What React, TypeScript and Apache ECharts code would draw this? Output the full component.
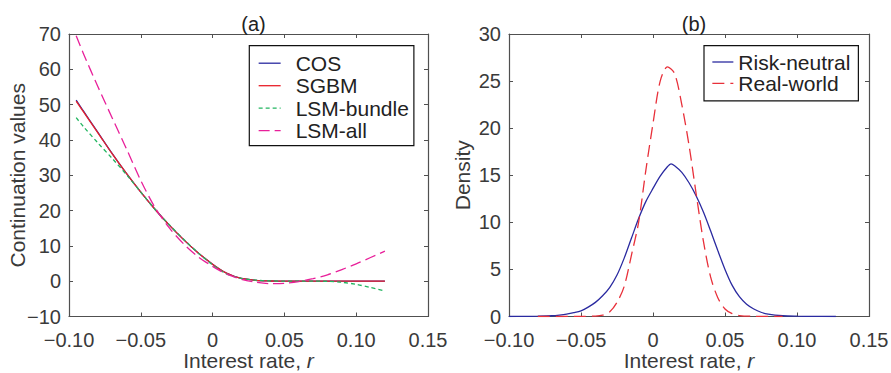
import React, { useEffect, useRef } from "react";
import * as echarts from "echarts";

// Panel (a): continuation values
const rateA = [-0.095, -0.09, -0.08, -0.07, -0.06, -0.05, -0.04, -0.03, -0.02, -0.01, 0, 0.005, 0.01, 0.015, 0.02, 0.03, 0.04, 0.05, 0.06, 0.07, 0.08, 0.09, 0.1, 0.11, 0.12];
const cosVals = [51.3, 48.2, 42.2, 36.2, 30.5, 25.2, 20.3, 15.8, 11.7, 8.0, 4.8, 3.4, 2.2, 1.4, 0.8, 0.25, 0.06, 0.01, 0, 0, 0, 0, 0, 0, 0];
const sgbmVals = [51.0, 48.0, 42.1, 36.1, 30.5, 25.2, 20.3, 15.8, 11.7, 8.0, 4.8, 3.4, 2.2, 1.4, 0.8, 0.25, 0.06, 0.01, 0, 0, 0, 0, 0, 0, 0];
const lsmBundleVals = [46.3, 43.8, 39.2, 34.8, 30.2, 25.2, 20.3, 15.9, 11.8, 8.0, 4.6, 3.2, 2.0, 1.3, 0.8, 0.3, 0.1, 0.0, 0, 0, -0.05, -0.3, -0.9, -1.8, -2.8];
const lsmAllVals = [69.5, 64.5, 55.2, 46.3, 37.5, 28.5, 20.8, 15.0, 10.5, 6.9, 4.2, 3.0, 2.0, 1.2, 0.5, -0.3, -0.7, -0.6, -0.1, 0.7, 1.8, 3.3, 4.9, 6.7, 8.5];

// Panel (b): densities
const rateRN = [-0.1, -0.09, -0.08, -0.07, -0.065, -0.06, -0.055, -0.05, -0.045, -0.04, -0.035, -0.03, -0.025, -0.02, -0.015, -0.01, -0.005, 0, 0.005, 0.01, 0.0125, 0.015, 0.02, 0.025, 0.03, 0.035, 0.04, 0.045, 0.05, 0.055, 0.06, 0.065, 0.07, 0.075, 0.08, 0.09, 0.1, 0.11, 0.127];
const riskNeutralVals = [0, 0.01, 0.03, 0.08, 0.15, 0.25, 0.4, 0.6, 1.0, 1.5, 2.2, 3.1, 4.4, 6.2, 8.3, 10.4, 12.2, 13.6, 14.9, 15.9, 16.2, 16.0, 15.3, 14.2, 12.8, 11.1, 9.1, 7.0, 5.0, 3.3, 2.1, 1.3, 0.8, 0.45, 0.25, 0.08, 0.03, 0.01, 0];
const rateRW = [-0.08, -0.05, -0.04, -0.035, -0.03, -0.025, -0.02, -0.015, -0.01, -0.005, 0, 0.005, 0.01, 0.015, 0.02, 0.025, 0.03, 0.035, 0.04, 0.045, 0.05, 0.055, 0.06, 0.07, 0.09];
const realWorldVals = [0, 0.01, 0.05, 0.15, 0.5, 1.5, 3.2, 6.5, 10.0, 15.5, 20.5, 25.0, 26.5, 25.8, 22.5, 18.2, 13.0, 8.0, 4.2, 2.0, 0.8, 0.3, 0.1, 0.02, 0];

const legendA = ["COS", "SGBM", "LSM-bundle", "LSM-all"];
const legendB = ["Risk-neutral", "Real-world"];

const FONT = "Liberation Sans, Arial, Helvetica, sans-serif";
const AXIS_COLOR = "#505050";
const TEXT_COLOR = "#3a3a3a";

const zip = (xs: number[], ys: number[]) => xs.map((x, i) => [x, ys[i]]);

const fmtX = (v: number) => (Math.abs(v) < 1e-9 ? "0" : v.toFixed(2).replace("-", "\u2212"));
const fmtY = (v: number) => String(Math.round(v)).replace("-", "\u2212");

function xAxes(grid: number) {
  const base = {
    gridIndex: grid,
    type: "value",
    min: -0.1,
    max: 0.15,
    interval: 0.05,
    splitLine: { show: false },
    axisLine: { show: true, onZero: false, lineStyle: { color: AXIS_COLOR, width: 1.2 } },
    axisTick: { show: true, inside: true, length: 4, lineStyle: { color: AXIS_COLOR } },
  };
  return [
    {
      ...base,
      position: "bottom",
      axisLabel: { show: true, formatter: fmtX, fontSize: 20, color: TEXT_COLOR, fontFamily: FONT, margin: 13 },
      name: "{a|Interest rate, }{i|r}",
      nameLocation: "middle",
      nameGap: 33,
      nameMoveOverlap: false,
      nameTextStyle: {
        rich: {
          a: { fontSize: 21, fontFamily: FONT, color: TEXT_COLOR },
          i: { fontSize: 21, fontFamily: FONT, color: TEXT_COLOR, fontStyle: "italic" },
        },
      },
    },
    { ...base, position: "top", axisLabel: { show: false } },
  ];
}

function yAxes(grid: number, min: number, max: number, interval: number, name: string, gap: number) {
  const base = {
    gridIndex: grid,
    type: "value",
    min,
    max,
    interval,
    splitLine: { show: false },
    axisLine: { show: true, onZero: false, lineStyle: { color: AXIS_COLOR, width: 1.2 } },
    axisTick: { show: true, inside: true, length: 4, lineStyle: { color: AXIS_COLOR } },
  };
  return [
    {
      ...base,
      position: "left",
      axisLabel: { show: true, formatter: fmtY, fontSize: 20, color: TEXT_COLOR, fontFamily: FONT, margin: 8 },
      name,
      nameLocation: "middle",
      nameGap: gap,
      nameMoveOverlap: false,
      nameTextStyle: { fontSize: 21, fontFamily: FONT, color: TEXT_COLOR },
    },
    { ...base, position: "right", axisLabel: { show: false } },
  ];
}

function line(name: string, xs: number[], ys: number[], color: string, xi: number, yi: number, type: any, width = 1.3) {
  return {
    name,
    type: "line",
    xAxisIndex: xi,
    yAxisIndex: yi,
    data: zip(xs, ys),
    smooth: 0.3,
    symbol: "none",
    showSymbol: false,
    lineStyle: { color, width, type },
    itemStyle: { color },
  };
}

const legendCommon = {
  orient: "vertical",
  itemHeight: 14,
  borderColor: "#111",
  borderWidth: 1.2,
  backgroundColor: "#fff",
  itemStyle: { opacity: 0 },
  lineStyle: { type: "inherit", width: 1.3 },
};

export default function App() {
  const ref = useRef<HTMLDivElement>(null);
  useEffect(() => {
    if (!ref.current) return;
    const chart = echarts.init(ref.current, null, { renderer: "svg" });
    chart.setOption({
      animation: false,
      backgroundColor: "#ffffff",
      title: [
        { text: "(a)", left: 248.5, top: 9, textAlign: "center", textStyle: { fontSize: 20, fontWeight: "normal", fontFamily: FONT, color: "#222" } },
        { text: "(b)", left: 689, top: 9, textAlign: "center", textStyle: { fontSize: 20, fontWeight: "normal", fontFamily: FONT, color: "#222" } },
      ],
      grid: [
        { left: 69, top: 34, width: 359, height: 282.5, show: false, containLabel: false, outerBoundsMode: "none" },
        { left: 509, top: 34, width: 360, height: 282.5, show: false, containLabel: false, outerBoundsMode: "none" },
      ],
      xAxis: [...xAxes(0), ...xAxes(1)],
      yAxis: [
        ...yAxes(0, -10, 70, 10, "Continuation values", 41),
        ...yAxes(1, 0, 30, 5, "Density", 36),
      ],
      legend: [
        {
          ...legendCommon,
          data: legendA,
          left: 249.3,
          top: 45.7,
          itemWidth: 22,
          itemGap: 1.5,
          padding: [7, 5, 4.5, 8.7],
          textStyle: { fontSize: 21, lineHeight: 21, fontFamily: FONT, color: "#222", padding: [0, 0, 0, 10] },
        },
        {
          ...legendCommon,
          data: legendB,
          left: 704,
          top: 45.7,
          itemWidth: 21,
          itemGap: 0.3,
          padding: [5.8, 8, 7, 7.7],
          textStyle: { fontSize: 21, lineHeight: 21, fontFamily: FONT, color: "#222" },
        },
      ],
      series: [
        line("COS", rateA, cosVals, "#2a2aa0", 0, 0, "solid"),
        line("SGBM", rateA, sgbmVals, "#e8202a", 0, 0, "solid"),
        line("LSM-bundle", rateA, lsmBundleVals, "#22b560", 0, 0, [4, 3]),
        line("LSM-all", rateA, lsmAllVals, "#e8209a", 0, 0, [11, 5]),
        line("Risk-neutral", rateRN, riskNeutralVals, "#2a2aa0", 2, 2, "solid"),
        line("Real-world", rateRW, realWorldVals, "#e8303a", 2, 2, [12, 6]),
      ],
    });
    return () => chart.dispose();
  }, []);
  return <div ref={ref} style={{ width: 891, height: 373, position: "absolute", left: 0, top: 0 }} />;
}
